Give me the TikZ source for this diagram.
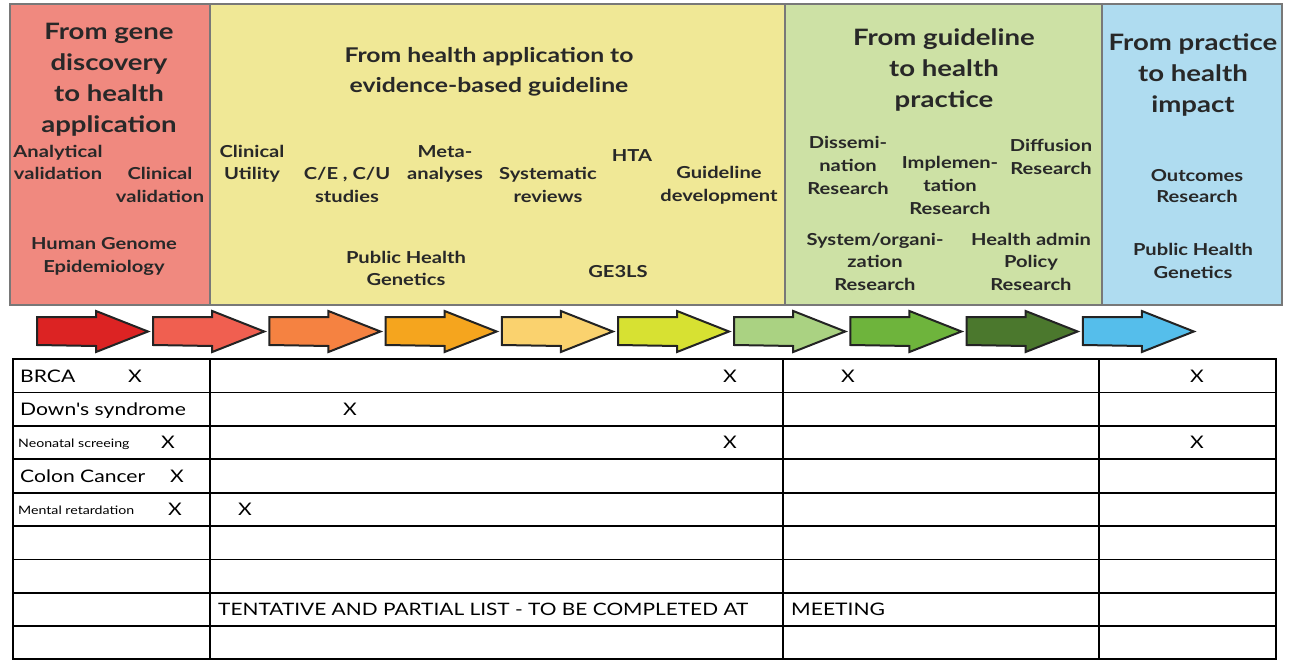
\documentclass[tikz,border=0pt]{standalone}
\usepackage{fontspec}
\setmainfont{Lato}
\newfontfamily\widefont[FakeStretch=1.22]{Lato}
\definecolor{pinkc}{RGB}{240,137,127}
\definecolor{yellowc}{RGB}{240,232,150}
\definecolor{greenc}{RGB}{205,225,165}
\definecolor{bluec}{RGB}{175,220,240}
\definecolor{panelline}{RGB}{120,120,120}
\definecolor{txt}{RGB}{40,40,40}
\definecolor{arrowline}{RGB}{35,35,35}
\definecolor{a1}{RGB}{220,35,35}
\definecolor{a2}{RGB}{240,95,80}
\definecolor{a3}{RGB}{245,130,65}
\definecolor{a4}{RGB}{245,165,30}
\definecolor{a5}{RGB}{250,210,110}
\definecolor{a6}{RGB}{215,225,50}
\definecolor{a7}{RGB}{170,210,130}
\definecolor{a8}{RGB}{110,180,60}
\definecolor{a9}{RGB}{75,120,45}
\definecolor{a10}{RGB}{85,190,235}
\begin{document}
\begin{tikzpicture}[x=1pt,y=-1pt,
  panel/.style={draw=panelline, line width=2pt},
  title/.style={font=\widefont\bfseries\fontsize{22.6}{31}\selectfont, align=center, anchor=base, text=txt, inner sep=0pt},
  lbl/.style={font=\widefont\bfseries\fontsize{16.5}{23}\selectfont, align=center, anchor=base, text=txt, inner sep=0pt},
  cell/.style={font=\widefont\fontsize{17.3}{20}\selectfont, anchor=base west, inner sep=0pt, text=black},
  tiny/.style={font=\widefont\fontsize{11.6}{13}\selectfont, anchor=base west, inner sep=0pt, text=black},
  xmk/.style={font=\widefont\fontsize{17.3}{20}\selectfont, anchor=base, inner sep=0pt, text=black},
  stage/.style={draw=arrowline, line width=2pt, line join=miter},
  grid/.style={draw=black, line width=1.8pt}
]
\useasboundingbox (0,0) rectangle (1289,660);
% panels
\path[panel, fill=pinkc] (10,4) rectangle (210,305);
\path[panel, fill=yellowc] (210,4) rectangle (785,305);
\path[panel, fill=greenc] (785,4) rectangle (1102,305);
\path[panel, fill=bluec] (1102,4) rectangle (1282,305);
% titles (anchor base = last line baseline)
\node[title] (t1) at (109,133) {From gene\\discovery\\to health\\application};
\node[title, font=\widefont\bfseries\fontsize{20.3}{30}\selectfont] (t2) at (489,93) {From health application to\\evidence-based guideline};
\node[title] (t3) at (944,108) {From guideline\\to health\\practice};
\node[title] (t4) at (1193,113) {From practice\\to health\\impact};
% labels
\node[lbl] (l1) at (58,180) {Analytical\\[-1pt]validation};
\node[lbl] (l2) at (160,203) {Clinical\\validation};
\node[lbl] (l3) at (104,272) {Human Genome\\[-1pt]Epidemiology};
\node[lbl] (l4) at (252,180) {Clinical\\[-1pt]Utility};
\node[lbl] (l5) at (347,203) {C/E , C/U\\studies};
\node[lbl] (l6) at (445,180) {Meta-\\[-1pt]analyses};
\node[lbl] (l7) at (548,203) {Systematic\\reviews};
\node[lbl] (l8) at (632,162) {HTA};
\node[lbl] (l9) at (719,202) {Guideline\\development};
\node[lbl] (l10) at (406,285) {Public Health\\[-1pt]Genetics};
\node[lbl] (l11) at (618,277) {GE3LS};
\node[lbl] (l12) at (848,195) {Dissemi-\\nation\\Research};
\node[lbl] (l13) at (950,215) {Implemen-\\tation\\Research};
\node[lbl] (l14) at (1051,175) {Diffusion\\Research};
\node[lbl] (l15) at (875,290) {System/organi-\\[-0.5pt]zation\\[-0.5pt]Research};
\node[lbl] (l16) at (1031,290) {Health admin\\[-0.5pt]Policy\\[-0.5pt]Research};
\node[lbl] (l17) at (1197,203) {Outcomes\\[-2pt]Research};
\node[lbl] (l18) at (1193,278) {Public Health\\Genetics};
% arrows
\foreach \i in {1,...,10}{
  \pgfmathsetmacro{\L}{37+116.2*(\i-1)}
  \path[stage, fill=a\i] (\L,317) -- ++(59,0) -- ++(0,-6) -- ++(52,20.5) -- ++(-52,20.5) -- ++(0,-6) -- (\L,345) -- cycle;
}
% table
\path[grid] (13,359) rectangle (1276,659);
\foreach \k in {1,...,8}{
  \draw[grid] (13,359+33.4*\k) -- (1276,359+33.4*\k);
}
\draw[grid] (210,359) -- (210,659);
\draw[grid] (783,359) -- (783,659);
\draw[grid] (1099,359) -- (1099,659);
% row texts
\node[cell] (r1) at (20,382) {BRCA};
\node[cell] (r2) at (20,415.4) {Down's syndrome};
\node[tiny] (r3) at (18,447.3) {Neonatal screeing};
\node[cell] (r4) at (20,482.2) {Colon Cancer};
\node[tiny] (r5) at (18,514.1) {Mental retardation};
\node[cell, font=\widefont\fontsize{17.1}{20}\selectfont] (n1) at (218,615.8) {TENTATIVE AND PARTIAL LIST - TO BE COMPLETED AT};
\node[cell] (n2) at (791,615.8) {MEETING};
% marks
\node[xmk] (x1) at (135,382) {X};
\node[xmk] (x2) at (730,382) {X};
\node[xmk] (x3) at (848,382) {X};
\node[xmk] (x4) at (1197,382) {X};
\node[xmk] (x5) at (350,415.4) {X};
\node[xmk] (x6) at (168,448.8) {X};
\node[xmk] (x7) at (730,448.8) {X};
\node[xmk] (x8) at (1197,448.8) {X};
\node[xmk] (x9) at (177,482.2) {X};
\node[xmk] (x10) at (175,515.6) {X};
\node[xmk] (x11) at (245,515.6) {X};
\end{tikzpicture}
\end{document}
